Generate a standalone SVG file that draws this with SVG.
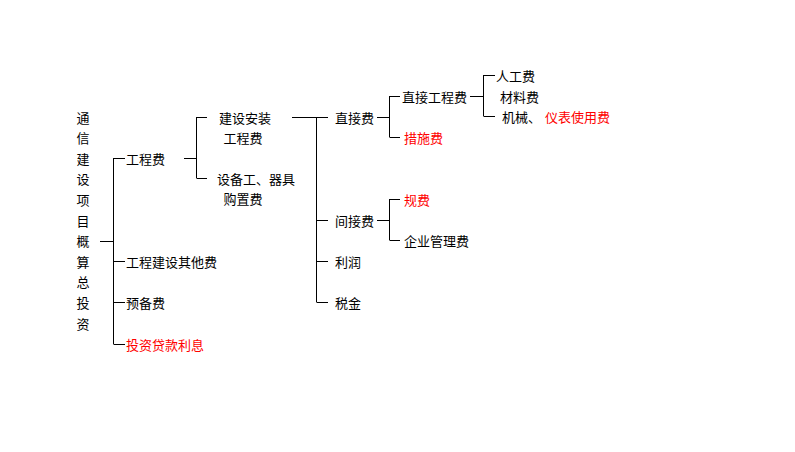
<svg xmlns="http://www.w3.org/2000/svg" width="795" height="452" viewBox="0 0 795 452">
<style>
text{font-family:"Noto Sans CJK SC","Liberation Sans",sans-serif;font-size:13px;fill:#000;dominant-baseline:central}
.r{fill:#ff0000}
.c{text-anchor:middle}
#connectors path{fill:none;stroke:#000;stroke-width:1}
</style>
<rect width="795" height="452" fill="#fff"/>
<g id="connectors">
<path d="M100,241.5H113.5M113.5,158V344M113.5,158.5H125M113.5,261.5H125M113.5,302.5H125M113.5,344.5H125"/>
<path d="M184,158.5H196.5M196.5,117V178M196.5,117.5H207M196.5,178.5H207"/>
<path d="M292,117.5H328M316.5,117V302M316.5,220.5H328M316.5,261.5H328M316.5,302.5H328"/>
<path d="M377,117.5H389.5M389.5,96V137M389.5,96.5H400M389.5,137.5H400"/>
<path d="M377,220.5H389.5M389.5,199V240M389.5,199.5H400M389.5,240.5H400"/>
<path d="M470,96.5H483.5M483.5,75V116M483.5,75.5H495M483.5,116.5H495"/>
</g>
<g id="root">
<text x="83" y="117" class="c">通</text><text x="83" y="137.6" class="c">信</text><text x="83" y="158.2" class="c">建</text><text x="83" y="178.8" class="c">设</text><text x="83" y="199.4" class="c">项</text><text x="83" y="220" class="c">目</text><text x="83" y="240.6" class="c">概</text><text x="83" y="261.2" class="c">算</text><text x="83" y="281.8" class="c">总</text><text x="83" y="302.4" class="c">投</text><text x="83" y="323" class="c">资</text>
</g>
<g id="n-gcf"><text x="126" y="158">工程费</text></g>
<g id="n-qt"><text x="126" y="261">工程建设其他费</text></g>
<g id="n-ybf"><text x="126" y="302">预备费</text></g>
<g id="n-lx"><text x="126" y="344" class="r">投资贷款利息</text></g>
<g id="n-jaf"><text x="245" y="117" class="c">建设安装</text><text x="243" y="137" class="c">工程费</text></g>
<g id="n-sb"><text x="217" y="178">设备工、器具</text><text x="243" y="198" class="c">购置费</text></g>
<g id="n-zjf"><text x="335" y="117">直接费</text></g>
<g id="n-jjf"><text x="335" y="220">间接费</text></g>
<g id="n-lr"><text x="335" y="261">利润</text></g>
<g id="n-sj"><text x="335" y="302">税金</text></g>
<g id="n-zjgcf"><text x="402" y="96">直接工程费</text></g>
<g id="n-csf"><text x="404" y="137" class="r">措施费</text></g>
<g id="n-gf"><text x="404" y="199" class="r">规费</text></g>
<g id="n-qygl"><text x="404" y="240">企业管理费</text></g>
<g id="n-rgf"><text x="496" y="75">人工费</text></g>
<g id="n-clf"><text x="500" y="96">材料费</text></g>
<g id="n-jx"><text x="502" y="116">机械、</text><text x="545" y="116" class="r">仪表使用费</text></g>
</svg>
